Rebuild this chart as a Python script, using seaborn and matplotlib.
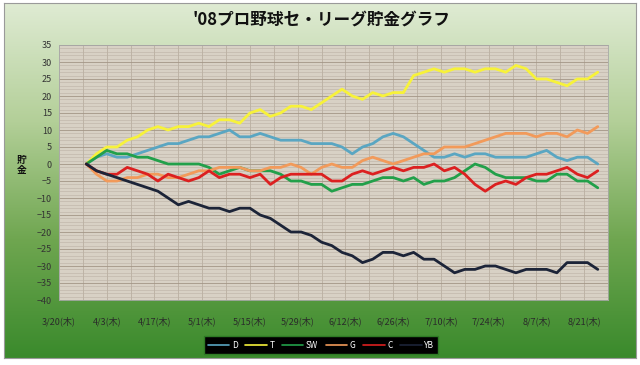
import matplotlib
matplotlib.use("Agg")
import matplotlib.pyplot as plt
import matplotlib.dates as mdates
from matplotlib.colors import LinearSegmentedColormap
import seaborn as sns
import pandas as pd
import numpy as np

# 3日おきの貯金の推移 (3/28 開幕 〜 8/25)
dates = pd.date_range("2008-03-28", "2008-08-25", freq="3D")

D = [0, 2, 3, 2, 2, 3, 4, 5, 6, 6, 7, 8, 8, 9, 10, 8, 8, 9, 8, 7, 7, 7, 6, 6, 6, 5,
     3, 5, 6, 8, 9, 8, 6, 4, 2, 2, 3, 2, 3, 3, 2, 2, 2, 2, 3, 4, 2, 1, 2, 2, 0]
T = [0, 3, 5, 5, 7, 8, 10, 11, 10, 11, 11, 12, 11, 13, 13, 12, 15, 16, 14, 15, 17, 17, 16, 18, 20, 22,
     20, 19, 21, 20, 21, 21, 26, 27, 28, 27, 28, 28, 27, 28, 28, 27, 29, 28, 25, 25, 24, 23, 25, 25, 27]
SW = [0, 2, 4, 3, 3, 2, 2, 1, 0, 0, 0, 0, -1, -3, -2, -1, -2, -2, -2, -3, -5, -5, -6, -6, -8, -7,
      -6, -6, -5, -4, -4, -5, -4, -6, -5, -5, -4, -2, 0, -1, -3, -4, -4, -4, -5, -5, -3, -3, -5, -5, -7]
G = [0, -3, -5, -5, -4, -4, -3, -3, -4, -4, -3, -2, -2, -1, -1, -1, -2, -2, -1, -1, 0, -1, -3, -1, 0, -1,
     -1, 1, 2, 1, 0, 1, 2, 3, 3, 5, 5, 5, 6, 7, 8, 9, 9, 9, 8, 9, 9, 8, 10, 9, 11]
C = [0, -2, -3, -3, -1, -2, -3, -5, -3, -4, -5, -4, -2, -4, -3, -3, -4, -3, -6, -4, -3, -3, -3, -3, -5, -5,
     -3, -2, -3, -2, -1, -2, -1, -1, 0, -2, -1, -3, -6, -8, -6, -5, -6, -4, -3, -3, -2, -1, -3, -4, -2]
YB = [0, -2, -3, -4, -5, -6, -7, -8, -10, -12, -11, -12, -13, -13, -14, -13, -13, -15, -16, -18, -20, -20,
      -21, -23, -24, -26, -27, -29, -28, -26, -26, -27, -26, -28, -28, -30, -32, -31, -31, -30, -30, -31,
      -32, -31, -31, -31, -32, -29, -29, -29, -31]

teams = ["D", "T", "SW", "G", "C", "YB"]
colors = {"D": "#5aa6c2", "T": "#f7f23a", "SW": "#22a04a", "G": "#f29a5a", "C": "#dc2020", "YB": "#1c2438"}

tick_dates = pd.date_range("2008-03-20", "2008-08-21", freq="14D")
minor_dates = pd.date_range("2008-03-27", "2008-08-28", freq="14D")

df = pd.DataFrame({"date": dates, "D": D, "T": T, "SW": SW, "G": G, "C": C, "YB": YB})
df = df.melt(id_vars="date", var_name="team", value_name="value")

sns.set_theme(style="white")
plt.rcParams["font.family"] = ["Noto Sans CJK JP", "DejaVu Sans"]

fig = plt.figure(figsize=(6.4, 3.65), dpi=100)
fig.patch.set_facecolor("white")

# 緑のグラデーション背景
bg = fig.add_axes([4 / 640, 7 / 365, 632 / 640, 355 / 365], zorder=0)
cmap = LinearSegmentedColormap.from_list("g", ["#dfeBd3", "#b3cf98", "#6fa650", "#3a8a2c"])
bg.imshow(np.linspace(0, 1, 256).reshape(-1, 1), aspect="auto", cmap=cmap, extent=[0, 1, 0, 1])
bg.set_xticks([])
bg.set_yticks([])
for s in bg.spines.values():
    s.set_color("#9a9a9a")
    s.set_linewidth(0.8)

ax = fig.add_axes([59 / 640, 65 / 365, 549 / 640, 255 / 365], zorder=1)
ax.set_facecolor("#d8d1c5")

sns.lineplot(data=df, x="date", y="value", hue="team", hue_order=teams, palette=colors,
             linewidth=2, ax=ax)

ax.set_ylim(-40, 35)
ax.set_yticks(range(-40, 36, 5))
ax.set_yticks(range(-40, 36, 1), minor=True)
ax.set_xlim(mdates.date2num(pd.Timestamp("2008-03-20")), mdates.date2num(pd.Timestamp("2008-08-28")))
ax.set_xticks(mdates.date2num(tick_dates))
ax.set_xticklabels([f"{d.month}/{d.day}(木)" for d in tick_dates])
ax.set_xticks(mdates.date2num(minor_dates), minor=True)
ax.grid(which="major", axis="y", color="#a39686", linewidth=0.6)
ax.grid(which="minor", axis="y", color="#bcb2a5", linewidth=0.4)
ax.grid(which="both", axis="x", color="#b3a899", linewidth=0.5)
ax.set_axisbelow(True)
ax.tick_params(which="both", length=0)
ax.tick_params(axis="y", labelsize=6.5, labelcolor="#333333", pad=5)
ax.tick_params(axis="x", labelsize=6.5, labelcolor="#2a2a2a", pad=12)
ax.set_xlabel("")
ax.set_ylabel("")
for s in ax.spines.values():
    s.set_color("#a8a8a8")
    s.set_linewidth(0.6)

handles, labels = ax.get_legend_handles_labels()
ax.get_legend().remove()
leg = fig.legend(handles, labels, loc="center", bbox_to_anchor=(321 / 640, 1 - 345 / 365), ncol=6,
                 fontsize=6, frameon=True, fancybox=False, handlelength=2.6, columnspacing=0.9,
                 handletextpad=0.3, borderpad=0.5)
leg.get_frame().set_facecolor("black")
leg.get_frame().set_edgecolor("#2e7a25")
leg.get_frame().set_alpha(1)
for t in leg.get_texts():
    t.set_color("white")
for h in leg.get_lines():
    h.set_linewidth(1.2)

fig.text(321 / 640, 1 - 20 / 365, "'08プロ野球セ・リーグ貯金グラフ", ha="center", va="center",
         fontsize=12, fontweight="bold", color="#111111")
fig.text(22 / 640, 1 - 165 / 365, "貯\n金", ha="center", va="center", fontsize=7,
         fontweight="bold", linespacing=1.0, color="#111111")

fig.savefig("out.png", dpi=100)
